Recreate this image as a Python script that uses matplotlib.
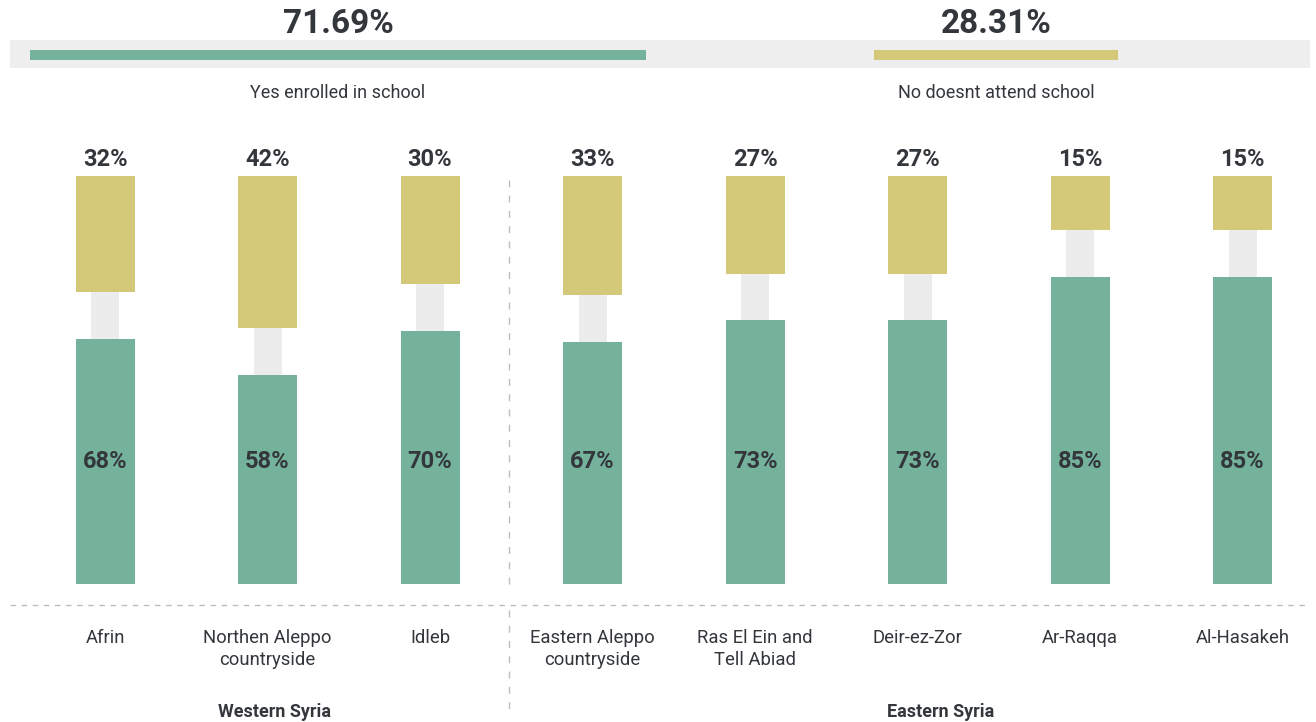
import numpy as np
import matplotlib
matplotlib.use("Agg")
import matplotlib.pyplot as plt

plt.rcParams['font.family'] = ['Roboto', 'DejaVu Sans']

# данные по регионам
regions = ["Afrin", "Northen Aleppo\ncountryside", "Idleb", "Eastern Aleppo\ncountryside",
           "Ras El Ein and\nTell Abiad", "Deir-ez-Zor", "Ar-Raqqa", "Al-Hasakeh"]
yes_pct = [68, 58, 70, 67, 73, 73, 85, 85]
no_pct = [32, 42, 30, 33, 27, 27, 15, 15]
groups = ["Western Syria", "Eastern Syria"]
group_sizes = [3, 5]

# общие итоги
total_labels = ["Yes enrolled in school", "No doesnt attend school"]
total_values = [71.69, 28.31]

GREEN = "#74b29c"
YELLOW = "#d3c978"
GAP = "#ececec"
TEXT = "#33373b"
LINE = "#bdbdbd"

W, H = 1316, 722
fig = plt.figure(figsize=(W / 100, H / 100), dpi=100)

# верхняя полоса с итогами
ax_top = fig.add_axes([10 / W, 1 - 120 / H, 1300 / W, 120 / H])
ax_top.set_xlim(-2.33, 149.0)
ax_top.set_ylim(120, 0)
ax_top.axis("off")
ax_top.axhspan(40, 68, color="#eeeeee", lw=0)
centers = [total_values[0] / 2, 112.45]
colors = [GREEN, YELLOW]
for c, v, col, lab in zip(centers, total_values, colors, total_labels):
    ax_top.barh(55, v, left=c - v / 2, height=10, color=col, lw=0)
    ax_top.text(c, 24, f"{v:.2f}%", ha="center", va="center", fontsize=24,
                fontweight="bold", color=TEXT)
    ax_top.text(c, 93, lab, ha="center", va="center", fontsize=13, color=TEXT)

# основной график
ax = fig.add_axes([10 / W, 0, 1300 / W, 1 - 120 / H])
x = np.arange(len(regions))
yes = np.array(yes_pct)
no = np.array(no_pct)
gap = 13.0
ax.bar(x, yes, width=0.363, color=GREEN, lw=0)
ax.bar(x, gap, bottom=yes, width=0.172, color=GAP, lw=0)
ax.bar(x, no, bottom=yes + gap, width=0.363, color=YELLOW, lw=0)

for xi, y, n in zip(x, yes, no):
    ax.text(xi, 117.6, f"{n}%", ha="center", va="center", fontsize=17,
            fontweight="bold", color=TEXT)
    ax.text(xi, 34, f"{y}%", ha="center", va="center", fontsize=17,
            fontweight="bold", color=TEXT)

for xi, lab in zip(x, regions):
    ax.text(xi, -12.6, lab, ha="center", va="top", fontsize=13.3, color=TEXT,
            linespacing=1.22)

# подписи групп чуть смещены вправо от центра
group_x = [1.04, 5.14]
for g, gx in zip(groups, group_x):
    ax.text(gx, -35.4, g, ha="center", va="center", fontsize=13,
            fontweight="bold", color=TEXT)

# разделители
ax.axhline(-5.8, color=LINE, lw=1, ls=(0, (4, 4)))
split = group_sizes[0] - 0.5
ax.plot([split - 0.012, split - 0.012], [0, 112], color=LINE, lw=1, ls=(0, (5, 6)))
ax.plot([split - 0.012, split - 0.012], [-7.2, -36.5], color=LINE, lw=1, ls=(0, (5, 6)))

ax.set_xlim(-0.585, 7.415)
ax.set_ylim(-38.23, 128.53)
ax.axis("off")

fig.savefig("out.png", dpi=100)
